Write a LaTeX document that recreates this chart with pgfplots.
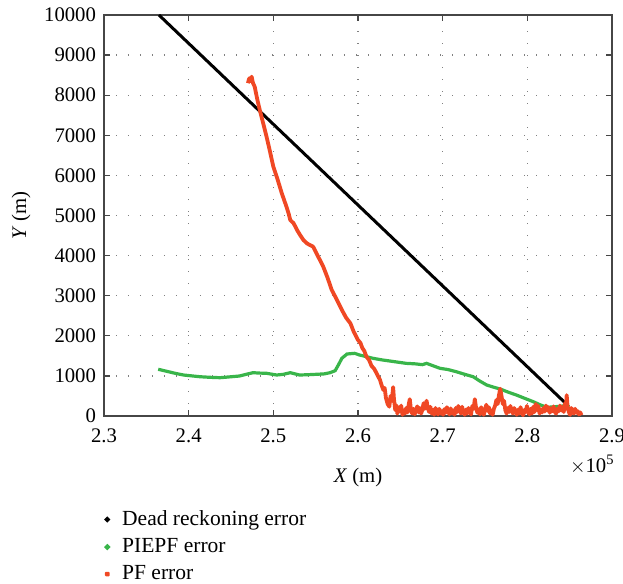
\documentclass[border=0pt]{standalone}
\usepackage{fontspec}
\setmainfont{Liberation Serif}
\usepackage{pgfplots}
\pgfplotsset{compat=1.18}
\definecolor{pfred}{RGB}{240,72,36}
\definecolor{pigreen}{RGB}{57,181,74}
\definecolor{axgray}{RGB}{70,70,70}
\begin{document}
\begin{tikzpicture}[font=\fontsize{10.4}{12}\selectfont]
\useasboundingbox (-52bp,-84bp) rectangle (259.5bp,208bp);
\begin{axis}[
  scale only axis,
  width=254bp, height=200.5bp,
  xmin=2.3, xmax=2.9, ymin=0, ymax=10000,
  xtick={2.3,2.4,2.5,2.6,2.7,2.8,2.9},
  ytick={0,1000,2000,3000,4000,5000,6000,7000,8000,9000,10000},
  xticklabel style={/pgf/number format/fixed,/pgf/number format/precision=1, yshift=-3bp},
  yticklabel style={/pgf/number format/1000 sep={}, xshift=-0.5bp},
  /pgf/number format/assume math mode=true,
  scaled x ticks=false, scaled y ticks=false,
  tick align=inside, tick pos=both,
  major tick length=3bp,
  every tick/.style={axgray, line width=0.6bp},
  axis line style={axgray, line width=0.8bp},
  grid=major,
  major grid style={gray, line width=0.6bp, dash pattern=on 0.6bp off 5.4bp},
  xlabel={\textit{X} (m)},
  ylabel={\textit{Y} (m)},
  xlabel style={yshift=-5.5bp},
  ylabel style={yshift=0bp},
  clip=true,
  legend style={at={(0,-0.225)}, anchor=north west, draw=none, fill=none,
    inner sep=0pt, row sep=1.0bp, font=\fontsize{10.8}{12}\selectfont,
    legend cell align=left,
    nodes={inner xsep=6bp}},
]
\addplot[black, line width=1.5bp, legend image code/.code={\fill[black] (0.3em,0) circle (0.5bp);}]
  coordinates {(2.3649,10000) (2.8451,320)};
\addlegendentry{Dead reckoning error}
\addplot[pigreen, line width=1.6bp, legend image code/.code={\fill[pigreen] (0.3em,0) circle (0.5bp);}]
  coordinates {
  (2.364,1165) (2.375,1110) (2.385,1060) (2.394,1022) (2.413,980) (2.425,965) (2.437,955)
  (2.448,975) (2.460,997) (2.468,1040) (2.476,1080) (2.484,1070) (2.492,1065) (2.504,1022)
  (2.512,1040) (2.520,1080) (2.531,1022) (2.541,1030) (2.551,1040) (2.560,1050) (2.567,1080)
  (2.573,1130) (2.577,1280) (2.581,1440) (2.587,1546) (2.596,1563) (2.602,1520) (2.610,1480)
  (2.618,1438) (2.628,1400) (2.638,1370) (2.648,1340) (2.657,1313) (2.668,1300) (2.676,1280)
  (2.681,1313) (2.689,1250) (2.697,1188) (2.706,1160) (2.716,1105) (2.726,1040) (2.736,980)
  (2.744,870) (2.752,773) (2.760,720) (2.769,665) (2.778,590) (2.787,524) (2.797,440)
  (2.807,357) (2.815,280) (2.823,216) (2.832,230) (2.842,249) (2.850,230)};
\addlegendentry{PIEPF error}
\addplot[pfred, line width=1.9bp, line join=round, legend image code/.code={\fill[pfred] (0.3em,0) circle (0.5bp);}]
  coordinates {
  (2.4700,8300) (2.4715,8420) (2.4730,8350) (2.4744,8462) (2.4760,8300) (2.4780,8212)
  (2.4810,7900) (2.4840,7631) (2.4880,7300) (2.4920,6965) (2.4960,6600) (2.5000,6217)
  (2.5050,5900) (2.5100,5554) (2.5150,5250) (2.5180,5055) (2.5200,4888) (2.5240,4805)
  (2.5280,4638) (2.5320,4500) (2.5355,4389) (2.5400,4300) (2.5470,4222) (2.5530,3973)
  (2.5590,3723) (2.5640,3450) (2.5690,3142) (2.5750,2900) (2.5810,2643) (2.5860,2450)
  (2.5910,2312) (2.5950,2100) (2.6000,1895) (2.6030,1820) (2.6050,1700) (2.6075,1620)
  (2.6100,1479) (2.6130,1400) (2.6160,1250) (2.6190,1180) (2.6220,1065) (2.6240,980)
  (2.6260,900) (2.6280,760) (2.6300,648) (2.6315,700) (2.6330,450) (2.6350,300)
  (2.6370,232) (2.6385,500) (2.6400,380) (2.6415,720) (2.6425,420) (2.6440,150)
  (2.6455,260) (2.6465,60) (2.6480,210) (2.6495,120) (2.6510,260) (2.6525,30)
  (2.6540,140) (2.6555,60) (2.6570,200) (2.6585,90) (2.6600,300) (2.6612,420)
  (2.6625,160) (2.6640,60) (2.6655,180) (2.6670,40) (2.6685,150) (2.6700,240)
  (2.6715,90) (2.6730,200) (2.6745,60) (2.6760,150) (2.6775,320) (2.6790,180)
  (2.6810,380) (2.6825,200) (2.6840,100) (2.6855,230) (2.6870,60) (2.6885,150)
  (2.6900,30) (2.6915,200) (2.6930,100) (2.6945,40) (2.6960,180) (2.6975,60)
  (2.6990,120) (2.7005,30) (2.7020,170) (2.7035,80) (2.7050,220) (2.7065,120)
  (2.7080,40) (2.7095,190) (2.7110,60) (2.7125,140) (2.7140,30) (2.7155,200)
  (2.7170,100) (2.7185,250) (2.7200,150) (2.7215,60) (2.7230,230) (2.7245,90)
  (2.7260,30) (2.7275,160) (2.7290,60) (2.7305,200) (2.7320,120) (2.7335,40)
  (2.7350,250) (2.7365,180) (2.7380,420) (2.7395,200) (2.7410,80) (2.7425,170)
  (2.7440,40) (2.7455,220) (2.7470,100) (2.7485,30) (2.7500,150) (2.7515,280)
  (2.7530,130) (2.7545,220) (2.7560,60) (2.7575,140) (2.7590,30) (2.7605,180)
  (2.7620,260) (2.7635,400) (2.7650,300) (2.7665,520) (2.7680,680) (2.7695,500)
  (2.7710,300) (2.7725,380) (2.7740,150) (2.7755,60) (2.7770,200) (2.7785,100)
  (2.7800,250) (2.7815,140) (2.7830,60) (2.7845,200) (2.7860,100) (2.7875,30)
  (2.7890,160) (2.7905,60) (2.7920,220) (2.7935,80) (2.7950,20) (2.7965,150)
  (2.7980,90) (2.7995,250) (2.8010,120) (2.8025,40) (2.8040,180) (2.8055,60)
  (2.8070,230) (2.8085,100) (2.8100,300) (2.8115,150) (2.8130,250) (2.8145,60)
  (2.8160,160) (2.8175,90) (2.8190,200) (2.8205,110) (2.8220,260) (2.8235,140)
  (2.8250,220) (2.8265,80) (2.8280,190) (2.8295,120) (2.8310,240) (2.8325,100)
  (2.8340,60) (2.8355,180) (2.8370,120) (2.8385,260) (2.8400,140) (2.8415,220)
  (2.8430,100) (2.8445,320) (2.8455,180) (2.8465,520) (2.8475,250) (2.8490,100)
  (2.8505,30) (2.8520,200) (2.8535,120) (2.8550,60) (2.8565,180) (2.8580,80)
  (2.8595,120) (2.8610,40) (2.8625,90) (2.8640,20)};
\addlegendentry{PF error}
\end{axis}
\node[anchor=base east, inner sep=0pt] at (255.5bp,-28bp) {$\times$10\textsuperscript{5}};
\end{tikzpicture}
\end{document}
